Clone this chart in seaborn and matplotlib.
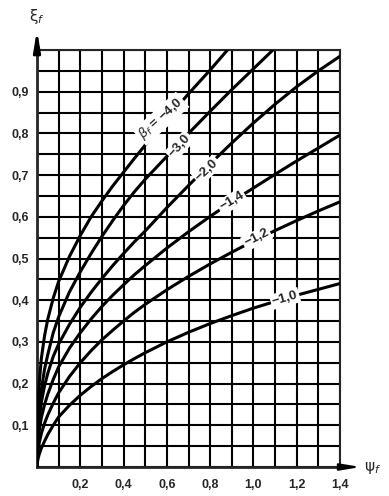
import numpy as np
import pandas as pd
import matplotlib.pyplot as plt
import seaborn as sns

# curves xi_f(psi_f) for several beta_f
psi_near = [0, 0.002, 0.005, 0.01, 0.02, 0.035, 0.05, 0.075, 0.1, 0.15, 0.2, 0.25,
            0.3, 0.35, 0.4, 0.45, 0.5, 0.6, 0.7, 0.8]

psi_40 = psi_near + [0.88]
xi_40 = [0, 0.09, 0.15, 0.2, 0.26, 0.315, 0.355, 0.405, 0.445, 0.505, 0.555, 0.6,
         0.638, 0.674, 0.707, 0.74, 0.772, 0.835, 0.895, 0.952, 1.0]

psi_30 = psi_near + [0.9, 1.0, 1.09]
xi_30 = [0, 0.06, 0.1, 0.135, 0.185, 0.235, 0.27, 0.322, 0.36, 0.42, 0.468, 0.512,
         0.553, 0.591, 0.627, 0.66, 0.69, 0.745, 0.8, 0.853, 0.905, 0.955, 1.0]

psi_long = psi_near + [0.9, 1.0, 1.1, 1.2, 1.3, 1.4]

xi_20 = [0, 0.05, 0.08, 0.11, 0.155, 0.195, 0.225, 0.265, 0.295, 0.342, 0.383, 0.419,
         0.452, 0.483, 0.512, 0.54, 0.566, 0.622, 0.675, 0.727, 0.777, 0.825, 0.87,
         0.912, 0.95, 0.985]

xi_14 = [0, 0.038, 0.06, 0.085, 0.118, 0.15, 0.175, 0.21, 0.24, 0.285, 0.322, 0.355,
         0.385, 0.412, 0.437, 0.461, 0.483, 0.525, 0.564, 0.601, 0.636, 0.669, 0.702,
         0.734, 0.765, 0.796]

xi_12 = [0, 0.025, 0.04, 0.057, 0.08, 0.105, 0.125, 0.153, 0.178, 0.217, 0.25, 0.279,
         0.305, 0.328, 0.35, 0.371, 0.39, 0.425, 0.457, 0.487, 0.515, 0.542, 0.567,
         0.591, 0.614, 0.636]

xi_10 = [0, 0.012, 0.02, 0.03, 0.045, 0.062, 0.078, 0.1, 0.12, 0.148, 0.172, 0.193,
         0.212, 0.229, 0.245, 0.26, 0.274, 0.3, 0.323, 0.344, 0.363, 0.381, 0.397,
         0.412, 0.426, 0.44]

beta_labels = [r'$\beta_f$ = −4,0', '−3,0', '−2,0', '−1,4', '−1,2', '−1,0']
label_pos = [(0.573, 0.835, 42), (0.66, 0.77, 48), (0.785, 0.712, 43),
             (0.90, 0.637, 31), (1.015, 0.549, 27), (1.146, 0.404, 16)]

x_ticks = [0.2, 0.4, 0.6, 0.8, 1.0, 1.2, 1.4]
x_ticklabels = ['0,2', '0,4', '0,6', '0,8', '1,0', '1,2', '1,4']
y_ticks = [0.1, 0.2, 0.3, 0.4, 0.5, 0.6, 0.7, 0.8, 0.9]
y_ticklabels = ['0,1', '0,2', '0,3', '0,4', '0,5', '0,6', '0,7', '0,8', '0,9']

curves = [(psi_40, xi_40), (psi_30, xi_30), (psi_long, xi_20),
          (psi_long, xi_14), (psi_long, xi_12), (psi_long, xi_10)]
frames = []
for name, (px, py) in zip(['4.0', '3.0', '2.0', '1.4', '1.2', '1.0'], curves):
    frames.append(pd.DataFrame({'psi': px, 'xi': py, 'beta': name}))
df = pd.concat(frames, ignore_index=True)

sns.set_style("white")
plt.rcParams['font.family'] = ['Liberation Sans', 'DejaVu Sans']

fig = plt.figure(figsize=(3.89, 4.96), dpi=100)
ax = fig.add_axes([37 / 389, 29 / 496, 303 / 389, 417 / 496])

sns.lineplot(data=df, x='psi', y='xi', units='beta', estimator=None,
             color='black', linewidth=2.2, sort=False, ax=ax, zorder=3)

ax.set_xlim(0, 1.4)
ax.set_ylim(0, 1.0)
ax.set_xticks(np.arange(0, 1.41, 0.1), minor=True)
ax.set_yticks(np.arange(0, 1.01, 0.05), minor=True)
ax.set_xticks(x_ticks)
ax.set_xticklabels(x_ticklabels, fontsize=9, fontweight='bold')
ax.set_yticks(y_ticks)
ax.set_yticklabels(y_ticklabels, fontsize=9, fontweight='bold')
ax.tick_params(which='both', length=0)
ax.tick_params(axis='x', pad=9)
ax.tick_params(axis='y', pad=6)
ax.grid(which='both', color='black', linewidth=1.5)
ax.set_xlabel('')
ax.set_ylabel('')
for side in ['top', 'right']:
    ax.spines[side].set_linewidth(1.5)
for side in ['left', 'bottom']:
    ax.spines[side].set_linewidth(2.0)

for text, (lx, ly, rot) in zip(beta_labels, label_pos):
    ax.text(lx, ly, text, rotation=rot, rotation_mode='anchor', ha='center',
            va='center', fontsize=9.5, fontweight='bold', zorder=5,
            bbox=dict(facecolor='white', edgecolor='none', pad=1.2))

# axis arrows
ax.annotate('', xy=(0, 1.055), xytext=(0, 0.99), xycoords='axes fraction',
            arrowprops=dict(arrowstyle='-|>,head_length=1.2,head_width=0.2',
                            color='black', lw=2.0))
ax.annotate('', xy=(1.078, 0), xytext=(0.99, 0), xycoords='axes fraction',
            arrowprops=dict(arrowstyle='-|>,head_length=1.2,head_width=0.2',
                            color='black', lw=1.5))
fig.text(37 / 389, 1 - 16 / 496, r'ξ$_f$', fontsize=11, ha='center', va='center',
         family=['DejaVu Sans'])
fig.text(373 / 389, 1 - 468 / 496, r'ψ$_f$', fontsize=11, ha='center', va='center',
         family=['DejaVu Sans'])

fig.savefig('out.png', dpi=100)
